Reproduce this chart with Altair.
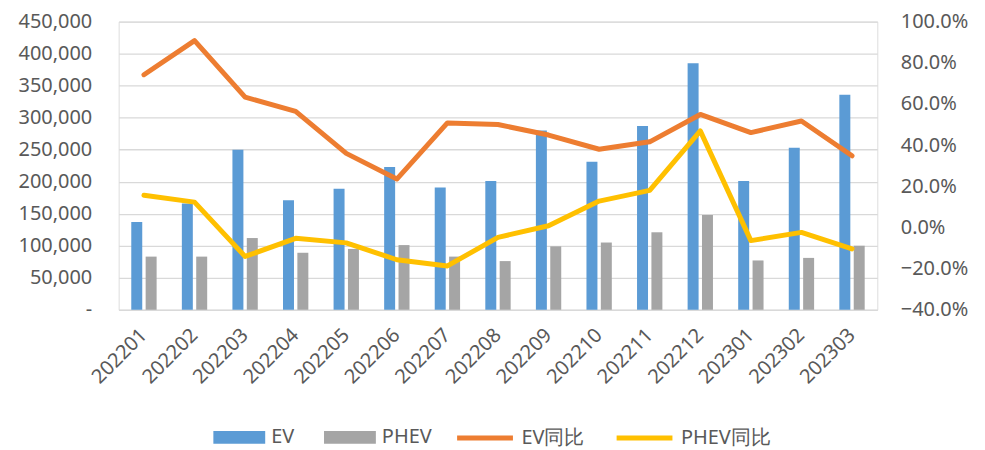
import altair as alt
import pandas as pd

months = ["202201", "202202", "202203", "202204", "202205", "202206", "202207", "202208",
          "202209", "202210", "202211", "202212", "202301", "202302", "202303"]
ev = [137000, 166000, 250000, 171000, 189000, 223000, 191000, 201000,
      280000, 231000, 287000, 385000, 201000, 253000, 336000]
phev = [83000, 83000, 112000, 89000, 95000, 101000, 83000, 76000,
        99000, 105000, 121000, 148000, 77000, 81000, 100000]
ev_yoy = [0.742, 0.908, 0.633, 0.564, 0.360, 0.235, 0.508, 0.500,
          0.449, 0.380, 0.416, 0.549, 0.461, 0.517, 0.348]
phev_yoy = [0.156, 0.123, -0.141, -0.053, -0.075, -0.157, -0.187, -0.048,
            0.008, 0.128, 0.180, 0.469, -0.064, -0.024, -0.104]

bar_types = ["EV", "PHEV"]
line_types = ["EV同比", "PHEV同比"]

bars_df = pd.DataFrame(
    [{"month": m, "type": "EV", "value": v} for m, v in zip(months, ev)]
    + [{"month": m, "type": "PHEV", "value": v} for m, v in zip(months, phev)]
)
lines_df = pd.DataFrame(
    [{"month": m, "series": "EV同比", "pct": v} for m, v in zip(months, ev_yoy)]
    + [{"month": m, "series": "PHEV同比", "pct": v} for m, v in zip(months, phev_yoy)]
)

FONT = "Noto Sans"
TXT = "#595959"
GRID = "#D9D9D9"

xenc = alt.X("month:N", sort=months, title=None,
             scale=alt.Scale(paddingInner=0, paddingOuter=0),
             axis=alt.Axis(labelAngle=-45, labelAlign="right", labelBaseline="middle",
                           labelPadding=22, labelFontSize=20, labelColor=TXT, labelFont=FONT,
                           domain=False, ticks=False, grid=False))

bars = alt.Chart(bars_df).mark_bar().encode(
    x=xenc,
    xOffset=alt.XOffset("type:N", sort=bar_types,
                        scale=alt.Scale(paddingInner=0.236, paddingOuter=0.878)),
    y=alt.Y("value:Q", title=None,
            scale=alt.Scale(domain=[0, 450000], nice=False, zero=True),
            axis=alt.Axis(values=list(range(0, 450001, 50000)),
                          labelExpr="datum.value == 0 ? '-\u00a0\u00a0' : format(datum.value, ',')",
                          labelFontSize=20, labelColor=TXT, labelFont=FONT, labelPadding=27,
                          domain=False, ticks=False, grid=True, gridColor=GRID, gridWidth=1.3)),
    color=alt.Color("type:N", sort=bar_types,
                    scale=alt.Scale(domain=bar_types, range=["#5B9BD5", "#A5A5A5"]),
                    legend=alt.Legend(title=None, orient="none", direction="horizontal",
                                      columns=2, legendX=95, legendY=391,
                                      symbolType="M-1,-0.245L1,-0.245L1,0.245L-1,0.245Z",
                                      symbolSize=2704, symbolStrokeWidth=0, symbolOpacity=1,
                                      labelFontSize=20, labelColor=TXT, labelFont=FONT,
                                      labelOffset=6, columnPadding=29, padding=0)),
)

lines = alt.Chart(lines_df).mark_line(strokeWidth=5, strokeCap="round", strokeJoin="round").encode(
    x=xenc,
    y=alt.Y("pct:Q", title=None,
            scale=alt.Scale(domain=[-0.4, 1.0], nice=False, zero=False),
            axis=alt.Axis(orient="right", values=[-0.4, -0.2, 0, 0.2, 0.4, 0.6, 0.8, 1.0],
                          format=".1%", labelFontSize=20, labelColor=TXT, labelFont=FONT,
                          labelPadding=23, domain=False, ticks=False, grid=False)),
    color=alt.Color("series:N", sort=line_types,
                    scale=alt.Scale(domain=line_types, range=["#ED7D31", "#FFC000"]),
                    legend=alt.Legend(title=None, orient="none", direction="horizontal",
                                      columns=2, legendX=337, legendY=387,
                                      symbolType="stroke", symbolSize=3136, symbolStrokeWidth=5,
                                      labelFontSize=20, labelColor=TXT, labelFont=FONT,
                                      labelOffset=6, columnPadding=21, padding=0)),
)

chart = alt.layer(bars, lines).resolve_scale(
    y="independent", color="independent"
).properties(
    width=761, height=289,
    autosize=alt.AutoSizeParams(type="none"),
    padding={"left": 111, "top": 13, "right": 100, "bottom": 140},
).configure_view(stroke=None).configure(background="white")

chart.save("out.html", embed_options={"renderer": "svg", "actions": False})
